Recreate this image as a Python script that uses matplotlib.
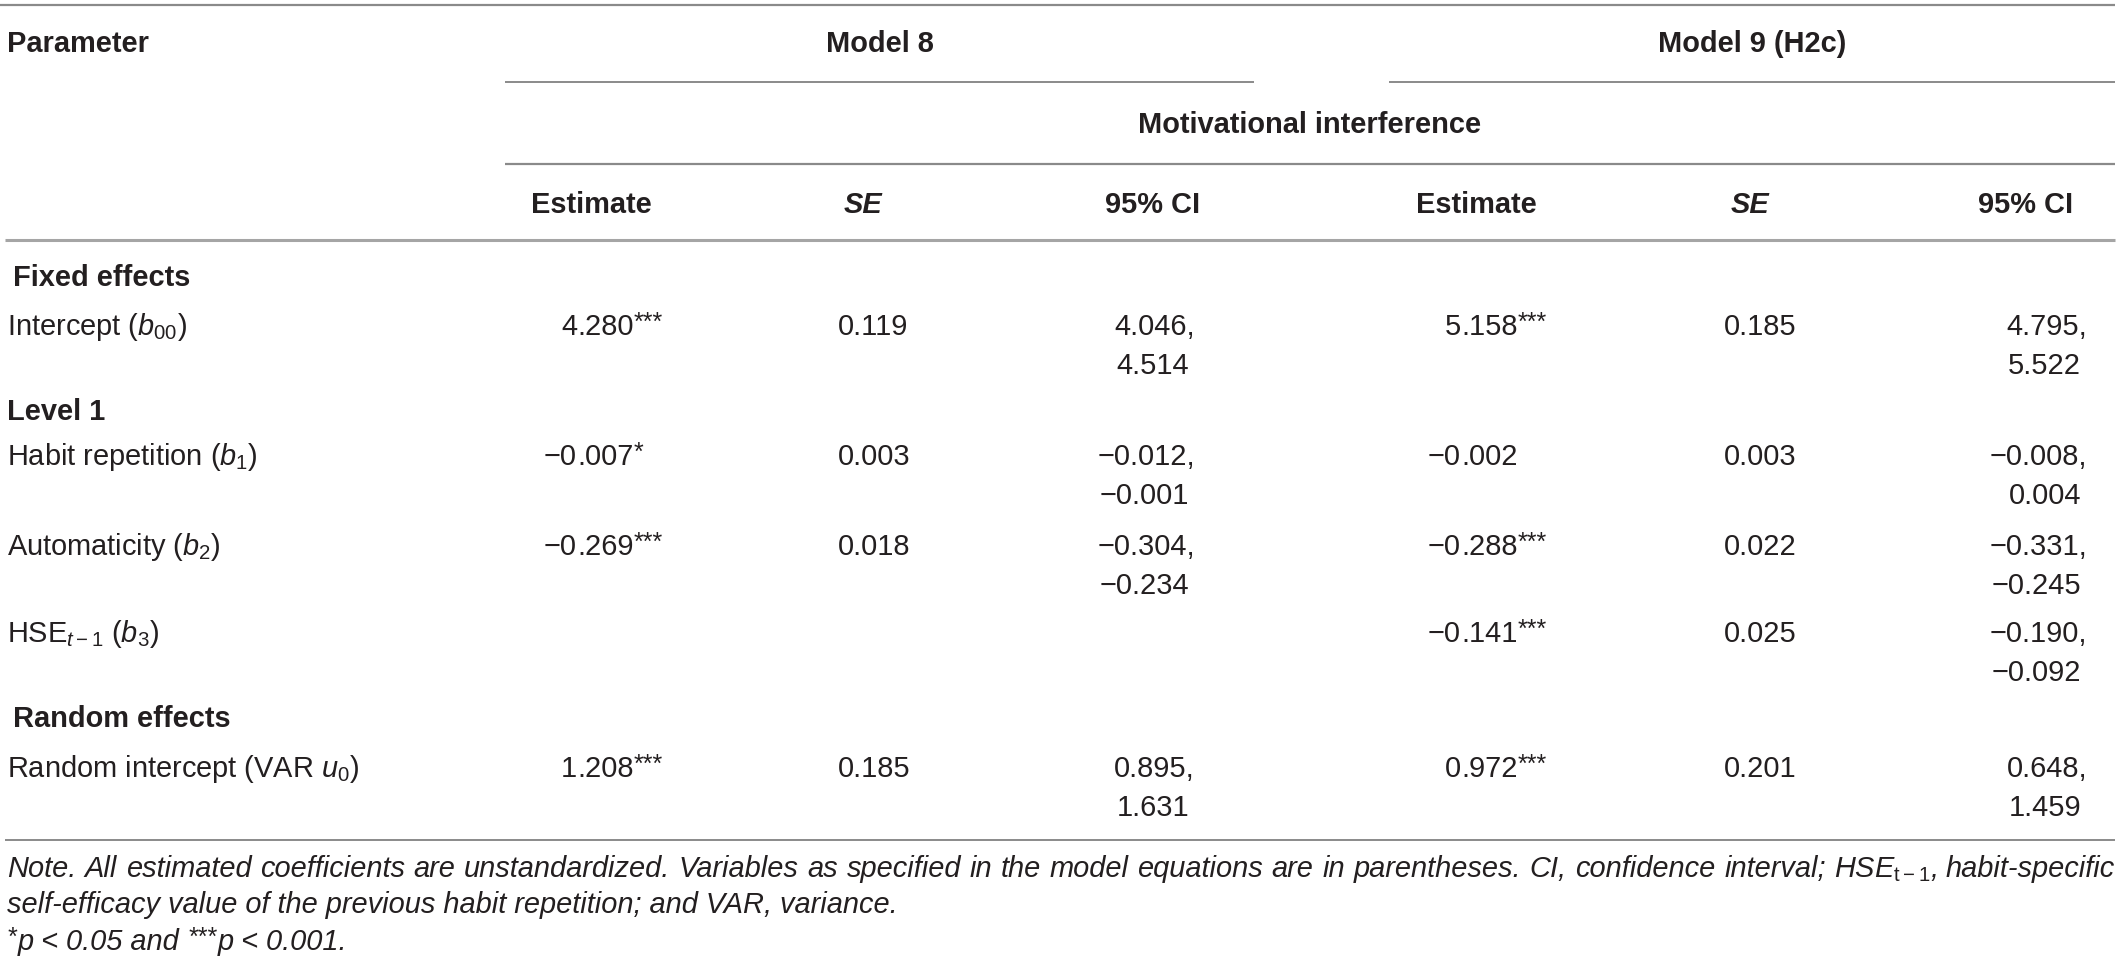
import matplotlib
matplotlib.use("Agg")
import matplotlib.pyplot as plt

plt.rcParams['font.family'] = 'Liberation Sans'
plt.rcParams['mathtext.fontset'] = 'custom'
plt.rcParams['mathtext.rm'] = 'Liberation Sans'
plt.rcParams['mathtext.it'] = 'Liberation Sans:italic'
plt.rcParams['mathtext.bf'] = 'Liberation Sans:bold'

# table content
params = ["Intercept ($b_{00}$)", "Habit repetition ($b_1$)", "Automaticity ($b_2$)",
          "HSE$_{t-1}$ ($b_3$)", "Random intercept (VAR $u_0$)"]
sections = ["Fixed effects", "Level 1", "Random effects"]

m8_est = ["4.280", "\u22120.007", "\u22120.269", None, "1.208"]
m8_sig = ["***", "*", "***", "", "***"]
m8_se = ["0.119", "0.003", "0.018", None, "0.185"]
m8_lo = ["4.046", "\u22120.012", "\u22120.304", None, "0.895"]
m8_hi = ["4.514", "\u22120.001", "\u22120.234", None, "1.631"]

m9_est = ["5.158", "\u22120.002", "\u22120.288", "\u22120.141", "0.972"]
m9_sig = ["***", "", "***", "***", "***"]
m9_se = ["0.185", "0.003", "0.022", "0.025", "0.201"]
m9_lo = ["4.795", "\u22120.008", "\u22120.331", "\u22120.190", "0.648"]
m9_hi = ["5.522", "0.004", "\u22120.245", "\u22120.092", "1.459"]

note1 = ("Note. All estimated coefficients are unstandardized. Variables as specified in the "
         "model equations are in parentheses. CI, confidence interval; HSE$_{\\mathrm{t-1}}$, habit-specific")
note2 = "self-efficacy value of the previous habit repetition; and VAR, variance."

INK = '#231f20'
RULE = '#8a8a8a'
FS = 20.9
STAR_FS = 18

fig = plt.figure(figsize=(21.18, 9.63), dpi=100)
ax = fig.add_axes([0, 0, 1, 1])
ax.set_xlim(0, 2118)
ax.set_ylim(963, 0)
ax.axis('off')
renderer = fig.canvas.get_renderer()


def put(x, y, s, ha='left', size=FS, **kw):
    return ax.text(x, y, s, ha=ha, va='baseline', fontsize=size, color=INK, **kw)


def right_edge(t):
    return t.get_window_extent(renderer).x1


def put_num(xd, y, s, stars='', **kw):
    whole, frac = s.split('.')
    put(xd, y, whole, ha='right', **kw)
    t = put(xd, y, '.' + frac, **kw)
    if stars:
        put(right_edge(t), y - 5, stars, size=STAR_FS, **kw)


def put_ci(xr, y, lo, hi):
    put(xr + 6, y, lo + ',', ha='right')
    put(xr, y + 39, hi, ha='right')


# rules
ax.hlines(5, 0, 2115, color=RULE, lw=1.6)
ax.hlines(82, 505, 1254, color=RULE, lw=1.4)
ax.hlines(82, 1389, 2115, color=RULE, lw=1.4)
ax.hlines(164, 505, 2115, color=RULE, lw=1.6)
ax.hlines(240, 5, 2115, color='#a5a5a5', lw=2.2)
ax.hlines(840, 5, 2115, color=RULE, lw=1.4)

# header
put(7, 52, "Parameter", fontweight='bold')
put(880, 52, "Model 8", ha='center', fontweight='bold')
put(1752, 52, "Model 9 (H2c)", ha='center', fontweight='bold')
put(1310, 133, "Motivational interference", ha='center', fontweight='bold')
for xc_est, xc_se, xc_ci in [(591, 863, 1153), (1476, 1750, 2026)]:
    put(xc_est, 213, "Estimate", ha='center', fontweight='bold')
    put(xc_se, 213, "SE", ha='center', fontweight='bold', fontstyle='italic')
    put(xc_ci, 213, "95% CI", ha='center', fontweight='bold')

# body
sec_y = [286, 420, 727]
for name, y in zip(sections, sec_y):
    put(13 if name != "Level 1" else 7, y, name, fontweight='bold')

row_y = [335, 465, 555, 642, 777]
for i, y in enumerate(row_y):
    put(7, y, params[i])
    if m8_est[i] is not None:
        put_num(577, y, m8_est[i], m8_sig[i])
        put(838, y, m8_se[i])
        put_ci(1189, y, m8_lo[i], m8_hi[i])
    put_num(1461, y, m9_est[i], m9_sig[i])
    put(1724, y, m9_se[i])
    put_ci(2081, y, m9_lo[i], m9_hi[i])

# notes, first line justified to the table width
words = note1.split(' ')
texts = [put(0, 877, w, fontstyle='italic') for w in words]
widths = [t.get_window_extent(renderer).width for t in texts]
gap = (2115 - 7 - sum(widths)) / (len(words) - 1)
x = 7
for t, w in zip(texts, widths):
    t.set_x(x)
    x += w + gap

put(7, 913, note2, fontstyle='italic')

x = 7
for s, star in [("*", True), ("p < 0.05 and", False), ("***", True), ("p < 0.001.", False)]:
    if star:
        t = put(x, 945, s, size=STAR_FS, fontstyle='italic')
        x = right_edge(t) + 1
    else:
        t = put(x, 950, s, fontstyle='italic')
        x = right_edge(t) + 8

plt.savefig('out.png', dpi=100)
plt.close()
